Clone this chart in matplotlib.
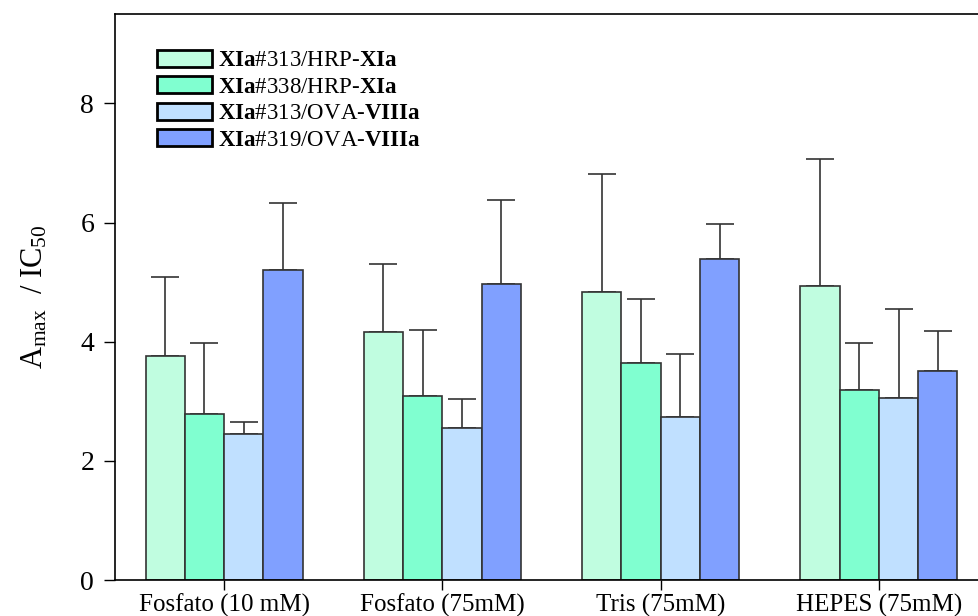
import numpy as np
import matplotlib.pyplot as plt
from matplotlib.patches import Patch

plt.rcParams['font.family'] = 'Liberation Serif'
plt.rcParams['mathtext.fontset'] = 'custom'
plt.rcParams['mathtext.rm'] = 'Liberation Serif'
plt.rcParams['mathtext.bf'] = 'Liberation Serif:bold'
plt.rcParams['mathtext.it'] = 'Liberation Serif:italic'

groups = ["Fosfato (10 mM)", "Fosfato (75mM)", "Tris (75mM)", "HEPES (75mM)"]
series = [r"$\mathbf{XIa}$#313/HRP-$\mathbf{XIa}$",
          r"$\mathbf{XIa}$#338/HRP-$\mathbf{XIa}$",
          r"$\mathbf{XIa}$#313/OVA-$\mathbf{VIIIa}$",
          r"$\mathbf{XIa}$#319/OVA-$\mathbf{VIIIa}$"]
values = [
    [3.76, 4.17, 4.84, 4.94],
    [2.79, 3.08, 3.65, 3.19],
    [2.45, 2.55, 2.74, 3.06],
    [5.21, 4.97, 5.39, 3.51],
]
errors = [
    [1.33, 1.14, 1.97, 2.12],
    [1.18, 1.12, 1.06, 0.79],
    [0.21, 0.48, 1.06, 1.49],
    [1.11, 1.40, 0.58, 0.67],
]
colors = ["#c0fde0", "#80ffd0", "#c0e0ff", "#80a0ff"]

fig = plt.figure(figsize=(9.79, 6.16), dpi=100)
ax = fig.add_axes([115/979, 36/616, 873/979, 566/616])

x = np.arange(len(groups))
w = 0.18
for i in range(4):
    pos = x + (i - 1.5) * w
    ax.bar(pos, values[i], w, color=colors[i], edgecolor="#333333", linewidth=1.2, zorder=2)
    ax.errorbar(pos, values[i], yerr=[np.zeros(4), errors[i]], fmt="none",
                ecolor="#333333", elinewidth=1.2, capsize=10, capthick=1.2, zorder=1)

ax.set_xlim(-0.5, 3.5)
ax.set_ylim(0, 9.5)
ax.set_yticks([0, 2, 4, 6, 8])
ax.set_xticks(x)
ax.set_xticklabels(groups, fontsize=18)
ax.tick_params(axis="y", labelsize=20, direction="out", length=8, width=1, pad=7)
ax.tick_params(axis="x", direction="out", length=7, width=1, pad=3)
ax.set_ylabel(r"A$_{\mathrm{max}}$  / IC$_{50}$", fontsize=22, labelpad=22)
for s in ax.spines.values():
    s.set_linewidth(1.2)

handles = [Patch(facecolor=c, edgecolor="black", linewidth=2) for c in colors]
ax.legend(handles, series, loc="upper left", bbox_to_anchor=(0.024, 0.973),
          frameon=False, fontsize=16.5, handlelength=2.4, handleheight=0.75,
          labelspacing=0.22, handletextpad=0.3)

plt.savefig("out.png", dpi=100)
